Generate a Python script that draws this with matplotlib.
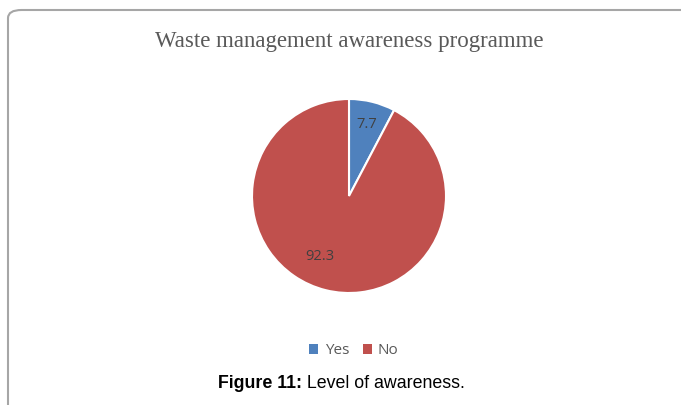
import matplotlib.pyplot as plt
from matplotlib.patches import FancyBboxPatch, Patch

labels = ['Yes', 'No']
values = [7.7, 92.3]
colors = ['#4F81BD', '#C0504D']

fig = plt.figure(figsize=(6.81, 4.05), dpi=100)

# rounded grey frame of the chart area
frame = FancyBboxPatch((8 / 681, -0.2), 1.2, (405 - 10) / 405 + 0.2,
                       boxstyle='round,pad=0,rounding_size=0.02',
                       transform=fig.transFigure, facecolor='white',
                       edgecolor='#A6A6A6', linewidth=1.5, zorder=-5)
fig.patches.append(frame)

ax = fig.add_axes([(349 - 97) / 681, (405 - 293) / 405, 194 / 681, 194 / 405])
ax.set_zorder(2)
ax.patch.set_visible(False)
wedges, texts, autotexts = ax.pie(
    values, colors=colors, startangle=90, counterclock=False,
    autopct=lambda p: f'{p:.1f}', pctdistance=0.76,
    wedgeprops=dict(edgecolor='white', linewidth=1.5),
    textprops=dict(color='#404040', fontsize=10.5, family='Open Sans'))
# the big slice's label sits a bit off its bisector in the original
autotexts[1].set_position((-0.30, -0.62))
ax.set_xlim(-1, 1)
ax.set_ylim(-1, 1)
ax.set_aspect('equal')

fig.text(349 / 681, 1 - 42 / 405, 'Waste management awareness programme',
         ha='center', va='center', fontsize=16.5, family='Liberation Serif',
         color='#595959')

handles = [Patch(facecolor=c, edgecolor='none') for c in colors]
fig.legend(handles, labels, loc='center', bbox_to_anchor=(354 / 681, 1 - 351 / 405),
           ncol=2, frameon=False, handlelength=0.6, handleheight=0.6,
           handletextpad=0.4, columnspacing=0.9,
           prop=dict(family='Open Sans', size=11), labelcolor='#595959')

# caption: bold "Figure 11:" followed by regular text
cap_y = 1 - 383 / 405
t1 = fig.text(218 / 681, cap_y, 'Figure 11:', ha='left', va='center',
              fontsize=12.8, family='Liberation Sans', weight='bold')
r = fig.canvas.get_renderer()
bb = t1.get_window_extent(renderer=r)
fig.text(bb.x1 / fig.bbox.width, cap_y, ' Level of awareness.', ha='left', va='center',
         fontsize=12.8, family='Liberation Sans')

fig.savefig('out.png', dpi=100)
